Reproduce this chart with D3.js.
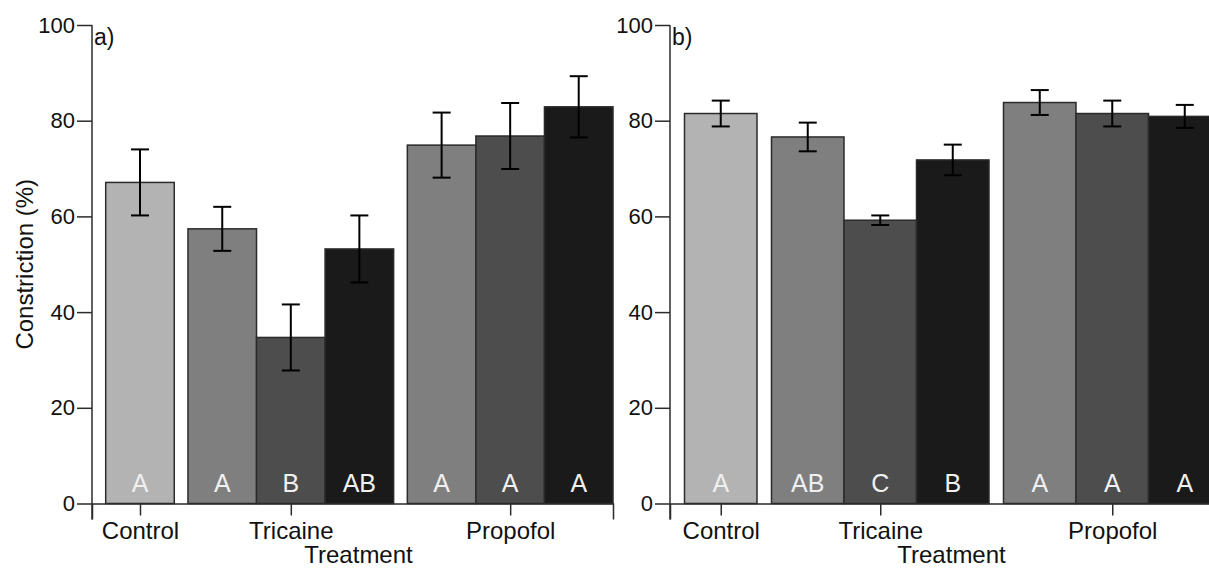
<!DOCTYPE html>
<html>
<head>
<meta charset="utf-8">
<script src="https://cdn.jsdelivr.net/npm/d3@7"></script>
<style>
  html, body { margin: 0; padding: 0; background: #fff; }
  svg { display: block; font-family: "Liberation Sans", Arial, sans-serif; }
</style>
</head>
<body>
<script>
// Treatment groups and how many bars each one holds
const groupNames = ["Control", "Tricaine", "Propofol"];
const groupSizes = [1, 3, 3];
// Shade index of each bar (0 = control, 1..3 = dose levels)
const barLevel = [0, 1, 2, 3, 1, 2, 3];

// Panel a) mean constriction (%), standard error, post-hoc letters
const meansA = [67.1, 57.4, 34.7, 53.2, 74.9, 76.8, 82.9];
const errA   = [6.9, 4.6, 6.9, 7.0, 6.8, 6.9, 6.4];
const lettersA = ["A", "A", "B", "AB", "A", "A", "A"];

// Panel b)
const meansB = [81.5, 76.6, 59.2, 71.8, 83.8, 81.5, 80.9];
const errB   = [2.7, 3.0, 1.0, 3.2, 2.6, 2.7, 2.4];
const lettersB = ["A", "AB", "C", "B", "A", "A", "A"];

const yTicks = [0, 20, 40, 60, 80, 100];

const W = 1209, H = 569;
const svg = d3.select("body").append("svg").attr("width", W).attr("height", H);

const shade = d3.scaleOrdinal().domain([0, 1, 2, 3])
  .range(["#b3b3b3", "#7f7f7f", "#4d4d4d", "#1a1a1a"]);
const lineCol = "#2b2b2b";

// bar slots in units of one bar width, with a 0.2 gap before each group
const gap = 0.2;
const starts = [];
const groupCenters = [];
let pos = 0;
groupSizes.forEach(n => {
  pos += gap;
  groupCenters.push(pos + n / 2);
  for (let i = 0; i < n; i++) { starts.push(pos); pos += 1; }
});
const totalUnits = pos;

const y = d3.scaleLinear().domain([0, 100]).range([503.5, 25]);

function drawPanel(xLeft, xRight, means, errs, letters, tag) {
  const x = d3.scaleLinear().domain([0, totalUnits]).range([xLeft, xRight]);
  const g = svg.append("g");
  const bw = x(1) - x(0);

  // bars
  g.selectAll("rect.bar").data(means).join("rect")
    .attr("class", "bar")
    .attr("x", (d, i) => x(starts[i]))
    .attr("width", bw)
    .attr("y", d => y(d))
    .attr("height", d => y(0) - y(d))
    .attr("fill", (d, i) => shade(barLevel[i]))
    .attr("stroke", lineCol)
    .attr("stroke-width", 1.5);

  // error bars
  const eb = g.selectAll("g.err").data(means).join("g").attr("class", "err")
    .attr("stroke", "#000").attr("stroke-width", 2);
  eb.append("line")
    .attr("x1", (d, i) => x(starts[i] + 0.5)).attr("x2", (d, i) => x(starts[i] + 0.5))
    .attr("y1", (d, i) => y(d + errs[i])).attr("y2", (d, i) => y(d - errs[i]));
  eb.append("line")
    .attr("x1", (d, i) => x(starts[i] + 0.5) - 9).attr("x2", (d, i) => x(starts[i] + 0.5) + 9)
    .attr("y1", (d, i) => y(d + errs[i])).attr("y2", (d, i) => y(d + errs[i]));
  eb.append("line")
    .attr("x1", (d, i) => x(starts[i] + 0.5) - 9).attr("x2", (d, i) => x(starts[i] + 0.5) + 9)
    .attr("y1", (d, i) => y(d - errs[i])).attr("y2", (d, i) => y(d - errs[i]));

  // significance letters at the foot of each bar
  g.selectAll("text.letter").data(letters).join("text")
    .attr("class", "letter")
    .attr("x", (d, i) => x(starts[i] + 0.5))
    .attr("y", 492)
    .attr("text-anchor", "middle")
    .attr("font-size", 25)
    .attr("fill", "#f0f0f0")
    .text(d => d);

  // y axis
  const ya = g.append("g").attr("transform", `translate(${xLeft},0)`)
    .call(d3.axisLeft(y).tickValues(yTicks).tickSize(15).tickSizeOuter(0).tickPadding(2));
  ya.select(".domain").remove();
  ya.selectAll(".tick line").attr("stroke", lineCol).attr("stroke-width", 1.5);
  ya.selectAll(".tick text").attr("font-size", 22).attr("fill", "#111")
    .attr("font-family", "'Liberation Sans', Arial, sans-serif");
  ya.append("line").attr("x1", 0).attr("x2", 0).attr("y1", y(100)).attr("y2", y(0) + 16)
    .attr("stroke", lineCol).attr("stroke-width", 1.5);

  // x axis with group ticks
  const xa = g.append("g").attr("transform", `translate(0,${y(0)})`)
    .call(d3.axisBottom(x).tickValues(groupCenters)
      .tickFormat((d, i) => groupNames[i])
      .tickSize(12).tickSizeOuter(16).tickPadding(6));
  xa.select(".domain").attr("stroke", lineCol).attr("stroke-width", 1.5);
  xa.selectAll(".tick line").attr("stroke", lineCol).attr("stroke-width", 1.5);
  xa.selectAll(".tick text").attr("font-size", 24).attr("fill", "#111")
    .attr("font-family", "'Liberation Sans', Arial, sans-serif");

  // axis title
  g.append("text")
    .attr("x", (xLeft + xRight) / 2 + 6).attr("y", 563)
    .attr("text-anchor", "middle").attr("font-size", 24).attr("fill", "#111")
    .text("Treatment");

  // panel tag
  g.append("text")
    .attr("x", xLeft + 2).attr("y", 45)
    .attr("font-size", 23).attr("fill", "#111")
    .text(tag);
}

drawPanel(92, 613, meansA, errA, lettersA, "a)");
drawPanel(670, 1221, meansB, errB, lettersB, "b)");

// shared y-axis title
svg.append("text")
  .attr("transform", `translate(33,${(y(0) + y(100)) / 2}) rotate(-90)`)
  .attr("text-anchor", "middle").attr("font-size", 24).attr("fill", "#111")
  .text("Constriction (%)");
</script>
</body>
</html>
